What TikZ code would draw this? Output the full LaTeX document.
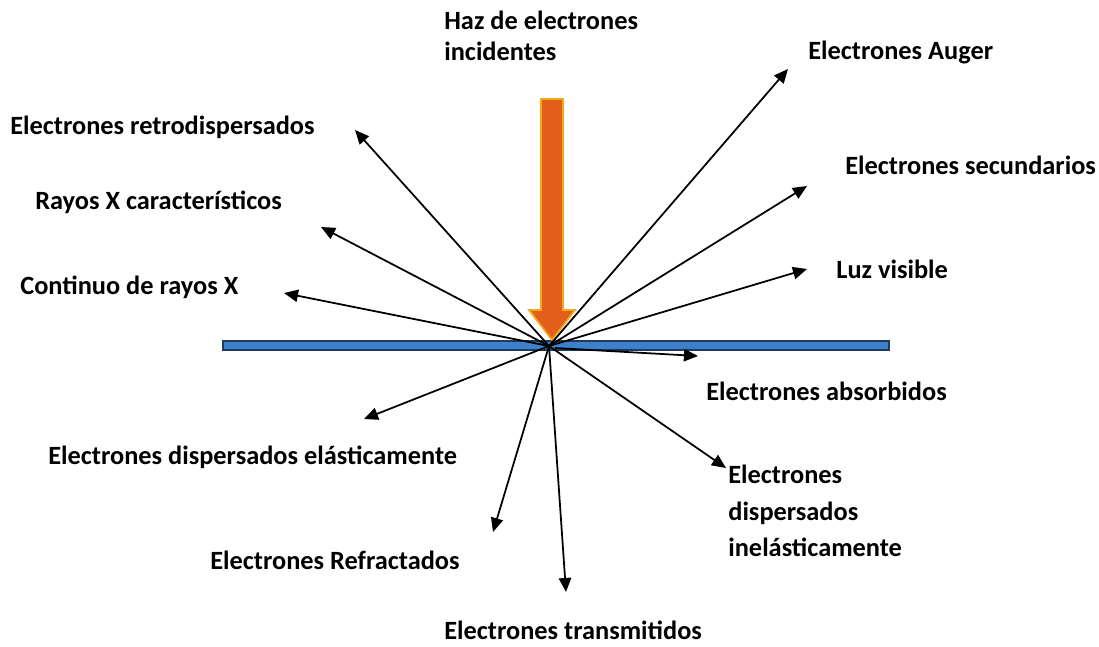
\documentclass[tikz,border=0pt]{standalone}
\usepackage{fontspec}
\setmainfont{Carlito}
\usepackage{tikz}
\usetikzlibrary{arrows.meta}
\definecolor{beamorange}{HTML}{E2601B}
\definecolor{beamedge}{HTML}{F4A81D}
\definecolor{plateblue}{HTML}{3D80CB}
\definecolor{plateedge}{HTML}{1E3A5F}

\begin{document}
\begin{tikzpicture}[
  x=0.02cm, y=-0.02cm,
  lbl/.style={font=\bfseries\fontsize{15}{18}\selectfont, anchor=west, inner sep=0pt, align=left},
  ray/.style={-{Triangle[length=8pt,width=7pt]}, line width=1pt, draw=black}
]
\useasboundingbox (0,0) rectangle (1099,646);

% muestra y haz incidente
\draw[plateedge, fill=plateblue, line width=0.8pt] (223,341) rectangle (889,350);
\draw[beamedge, fill=beamorange, line width=1pt]
  (541,99) -- (563,99) -- (563,310) -- (575,310) -- (552,340) -- (529,310) -- (541,310) -- cycle;

\coordinate (o) at (549,346);
\coordinate (oa) at (555,348);

% puntas de las flechas
\coordinate (auger) at (788,69);
\coordinate (sec) at (807,186);
\coordinate (luz) at (807,269);
\coordinate (abs) at (698,356);
\coordinate (inel) at (726,468);
\coordinate (trans) at (566,592);
\coordinate (refr) at (493,532);
\coordinate (elas) at (364,419);
\coordinate (cont) at (284,293);
\coordinate (rxc) at (321,227);
\coordinate (retro) at (355,130);

% etiquetas
\node[lbl] (haz) at (444,36) {Haz de electrones\\incidentes};
\node[lbl] (tauger) at (808,52) {Electrones Auger};
\node[lbl] (tretro) at (10,127) {Electrones retrodispersados};
\node[lbl] (tsec) at (845,165) {Electrones secundarios};
\node[lbl] (trxc) at (35,202) {Rayos X característicos};
\node[lbl] (tluz) at (836,269) {Luz visible};
\node[lbl] (tcont) at (20,287) {Continuo de rayos X};
\node[lbl] (tabs) at (706,391) {Electrones absorbidos};
\node[lbl] (telas) at (48,457) {Electrones dispersados elásticamente};
\node[lbl, font=\bfseries\fontsize{15}{20.7}\selectfont] (tinel) at (728,511) {Electrones\\dispersados\\inelásticamente};
\node[lbl] (trefr) at (210,560) {Electrones Refractados};
\node[lbl, anchor=base west] (ttrans) at (444,639) {Electrones transmitidos};

% flechas
\draw[ray] (o) -- (auger);
\draw[ray] (o) -- (sec);
\draw[ray] (o) -- (luz);
\draw[ray] (oa) -- (abs);
\draw[ray] (o) -- (inel);
\draw[ray] (o) -- (trans);
\draw[ray] (o) -- (refr);
\draw[ray] (o) -- (elas);
\draw[ray] (o) -- (cont);
\draw[ray] (o) -- (rxc);
\draw[ray] (o) -- (retro);

\end{tikzpicture}
\end{document}
